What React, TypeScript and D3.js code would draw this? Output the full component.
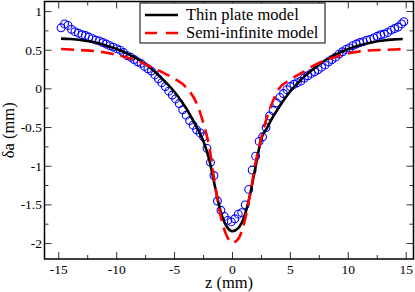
import * as d3 from "d3";

const WIDTH = 415;
const HEIGHT = 292;
const PLOT = { left: 44.5, right: 413.5, top: 1.5, bottom: 259 };

const X_DOMAIN = [-16.23, 15.63];
const Y_DOMAIN = [-2.2, 1.13];
const X_TICKS = [-15, -10, -5, 0, 5, 10, 15];
const X_MINOR = [-12.5, -7.5, -2.5, 2.5, 7.5, 12.5];
const Y_TICKS = [-2, -1.5, -1, -0.5, 0, 0.5, 1];
const Y_MINOR = [-1.75, -1.25, -0.75, -0.25, 0.25, 0.75];

// measured deflection (z, δa), mm
const measured = [
  [-14.8, 0.79], [-14.5, 0.84], [-14.2, 0.82], [-13.9, 0.77], [-13.6, 0.74],
  [-13.3, 0.72], [-13.0, 0.70], [-12.7, 0.69], [-12.4, 0.67], [-12.1, 0.65],
  [-11.8, 0.63], [-11.5, 0.62], [-11.2, 0.6], [-10.9, 0.58], [-10.6, 0.56],
  [-10.3, 0.54], [-10.0, 0.52], [-9.7, 0.5], [-9.4, 0.47], [-9.1, 0.43],
  [-8.8, 0.41], [-8.5, 0.38], [-8.2, 0.35], [-7.9, 0.33], [-7.6, 0.29],
  [-7.3, 0.26], [-7.0, 0.23], [-6.7, 0.18], [-6.4, 0.13], [-6.1, 0.08],
  [-5.8, 0.03], [-5.5, -0.03], [-5.2, -0.08], [-4.9, -0.13], [-4.6, -0.19],
  [-4.3, -0.27], [-4.0, -0.34], [-3.7, -0.41], [-3.4, -0.47], [-3.1, -0.53],
  [-2.8, -0.57], [-2.5, -0.62], [-2.2, -0.77], [-1.9, -0.95], [-1.6, -1.12],
  [-1.3, -1.45], [-1.0, -1.57], [-0.7, -1.65], [-0.4, -1.7], [-0.1, -1.72],
  [0.2, -1.68], [0.5, -1.62], [0.8, -1.6], [1.1, -1.5], [1.4, -1.3],
  [1.7, -1.05], [2.0, -0.87], [2.3, -0.68], [2.6, -0.62], [2.9, -0.5],
  [3.2, -0.35], [3.5, -0.28], [3.8, -0.18], [4.1, -0.11], [4.4, -0.06],
  [4.7, -0.01], [5.0, 0.03], [5.3, 0.06], [5.6, 0.08], [5.9, 0.1],
  [6.2, 0.14], [6.5, 0.17], [6.8, 0.2], [7.1, 0.22], [7.4, 0.25],
  [7.7, 0.28], [8.0, 0.31], [8.3, 0.35], [8.6, 0.38], [8.9, 0.41],
  [9.2, 0.45], [9.5, 0.48], [9.8, 0.51], [10.1, 0.53], [10.4, 0.56],
  [10.7, 0.58], [11.0, 0.6], [11.3, 0.61], [11.6, 0.63], [11.9, 0.64],
  [12.2, 0.66], [12.5, 0.68], [12.8, 0.7], [13.1, 0.71], [13.4, 0.73],
  [13.7, 0.76], [14.0, 0.78], [14.3, 0.8], [14.6, 0.84], [14.8, 0.87],
];

const thinPlate = [
  [-14.8, 0.65], [-14, 0.645], [-13, 0.63], [-12, 0.605], [-11, 0.565],
  [-10, 0.515], [-9, 0.45], [-8, 0.37], [-7, 0.26], [-6, 0.12],
  [-5, -0.04], [-4.5, -0.14], [-4, -0.25], [-3.5, -0.38], [-3, -0.52],
  [-2.5, -0.68], [-2, -0.92], [-1.5, -1.27], [-1, -1.6], [-0.5, -1.78],
  [0, -1.84], [0.5, -1.8], [1, -1.66], [1.5, -1.38], [2, -1.0],
  [2.5, -0.64], [3, -0.5], [3.5, -0.36], [4, -0.24], [5, -0.03],
  [6, 0.13], [7, 0.26], [8, 0.37], [9, 0.45], [10, 0.515],
  [11, 0.565], [12, 0.6], [13, 0.625], [14, 0.64], [14.7, 0.645],
];

const semiInfinite = [
  [-14.8, 0.515], [-13, 0.5], [-12, 0.49], [-11, 0.47], [-10, 0.44],
  [-9, 0.4], [-8, 0.35], [-7, 0.28], [-6, 0.21], [-5, 0.13],
  [-4, 0.02], [-3, -0.22], [-2.5, -0.45], [-2, -0.75], [-1.5, -1.25],
  [-1, -1.66], [-0.5, -1.9], [0, -1.99], [0.5, -1.94], [1, -1.74],
  [1.5, -1.38], [2, -0.95], [2.5, -0.62], [3, -0.36], [4, 0.0],
  [5, 0.12], [6, 0.21], [7, 0.3], [8, 0.37], [9, 0.42],
  [10, 0.46], [11, 0.485], [12, 0.5], [13, 0.505], [14, 0.51], [14.7, 0.515],
];

const FONT = "'Liberation Serif', 'Times New Roman', serif";

export default function App() {
  const x = d3.scaleLinear().domain(X_DOMAIN).range([PLOT.left, PLOT.right]);
  const y = d3.scaleLinear().domain(Y_DOMAIN).range([PLOT.bottom, PLOT.top]);

  const line = d3
    .line<number[]>()
    .x((d) => x(d[0]))
    .y((d) => y(d[1]))
    .curve(d3.curveMonotoneX);

  const tickColor = "#333";

  return (
    <svg
      width={WIDTH}
      height={HEIGHT}
      style={{ position: "absolute", left: 0, top: 0, background: "#fff" }}
      fontFamily={FONT}>
      <defs>
        <clipPath id="plot">
          <rect x={PLOT.left} y={PLOT.top} width={PLOT.right - PLOT.left} height={PLOT.bottom - PLOT.top} />
        </clipPath>
      </defs>

      {/* ── data ── */}
      <g clipPath="url(#plot)">
        {measured.map((d, i) => (
          <circle
            key={i}
            cx={x(d[0])}
            cy={y(d[1])}
            r={3.9}
            fill="none"
            stroke="#0000ff"
            strokeWidth={1.1}
          />
        ))}
        <path d={line(thinPlate) ?? ""} fill="none" stroke="#000" strokeWidth={2.6} />
        <path
          d={line(semiInfinite) ?? ""}
          fill="none"
          stroke="#ff0000"
          strokeWidth={2.6}
          strokeDasharray="13 7"
        />
      </g>

      {/* ── ticks, inward on all four sides ── */}
      {X_TICKS.map((t) => (
        <g key={"x" + t} stroke={tickColor} strokeWidth={1}>
          <line x1={x(t)} x2={x(t)} y1={PLOT.bottom} y2={PLOT.bottom - 7} />
          <line x1={x(t)} x2={x(t)} y1={PLOT.top} y2={PLOT.top + 7} />
        </g>
      ))}
      {X_MINOR.map((t) => (
        <g key={"xm" + t} stroke={tickColor} strokeWidth={1}>
          <line x1={x(t)} x2={x(t)} y1={PLOT.bottom} y2={PLOT.bottom - 4} />
          <line x1={x(t)} x2={x(t)} y1={PLOT.top} y2={PLOT.top + 4} />
        </g>
      ))}
      {Y_TICKS.map((t) => (
        <g key={"y" + t} stroke={tickColor} strokeWidth={1}>
          <line x1={PLOT.left} x2={PLOT.left + 7} y1={y(t)} y2={y(t)} />
          <line x1={PLOT.right} x2={PLOT.right - 7} y1={y(t)} y2={y(t)} />
        </g>
      ))}
      {Y_MINOR.map((t) => (
        <g key={"ym" + t} stroke={tickColor} strokeWidth={1}>
          <line x1={PLOT.left} x2={PLOT.left + 4} y1={y(t)} y2={y(t)} />
          <line x1={PLOT.right} x2={PLOT.right - 4} y1={y(t)} y2={y(t)} />
        </g>
      ))}

      {/* ── frame ── */}
      <rect
        x={PLOT.left}
        y={PLOT.top}
        width={PLOT.right - PLOT.left}
        height={PLOT.bottom - PLOT.top}
        fill="none"
        stroke="#000"
        strokeWidth={1.5}
      />

      {/* ── tick labels ── */}
      {X_TICKS.map((t) => (
        <text key={"xl" + t} x={x(t)} y={273.5} textAnchor="middle" fontSize={13.5} fill="#000">
          {t}
        </text>
      ))}
      {Y_TICKS.map((t) => (
        <text key={"yl" + t} x={42} y={y(t) + 4.5} textAnchor="end" fontSize={13.5} fill="#000">
          {t}
        </text>
      ))}

      {/* ── axis titles ── */}
      <text x={(PLOT.left + PLOT.right) / 2} y={287.5} textAnchor="middle" fontSize={16.5} fill="#000">
        z (mm)
      </text>
      <text
        transform={`translate(14,${(PLOT.top + PLOT.bottom) / 2}) rotate(-90)`}
        textAnchor="middle"
        fontSize={16.5}
        fill="#000">
        δa (mm)
      </text>

      {/* ── legend ── */}
      <rect x={140} y={3} width={185} height={40} fill="#fff" stroke="#000" strokeWidth={1} />
      <line x1={145} x2={178} y1={15} y2={15} stroke="#000" strokeWidth={2.6} />
      <line x1={145} x2={178} y1={33} y2={33} stroke="#ff0000" strokeWidth={2.6} strokeDasharray="12 9" />
      <text x={186} y={19.5} fontSize={16.5} fill="#000">
        Thin plate model
      </text>
      <text x={186} y={37.8} fontSize={16.5} fill="#000">
        Semi-infinite model
      </text>
    </svg>
  );
}
